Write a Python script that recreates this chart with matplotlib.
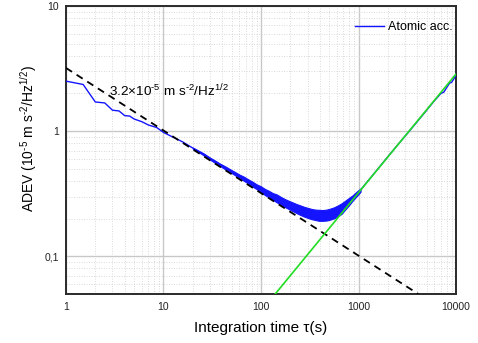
import matplotlib
matplotlib.use("Agg")
import matplotlib.pyplot as plt
from matplotlib.ticker import FixedLocator, LogLocator, NullFormatter

plt.rcParams['font.family'] = ['Liberation Sans', 'DejaVu Sans']
plt.rcParams['mathtext.fontset'] = 'custom'
plt.rcParams['mathtext.rm'] = 'Liberation Sans'
plt.rcParams['mathtext.it'] = 'Liberation Sans:italic'
plt.rcParams['mathtext.bf'] = 'Liberation Sans:bold'

# Atomic accelerometer ADEV (main trace)
tau = [1, 1.5, 2, 2.5, 3, 3.5, 4, 4.5, 5, 6, 7, 8.5, 10, 12, 15.7, 19, 23.3, 28,
       34.5, 42, 51, 60, 66, 75, 85, 96, 110, 125, 140, 160, 180, 200, 225, 250,
       280, 310, 350, 390, 430, 480, 530, 590, 650, 720, 800, 880, 960, 1050,
       1200, 1500, 2000, 2500, 3000, 4000, 5000, 6000, 7000, 7500, 8000, 8600,
       9000, 9900, 10000]
adev = [2.51, 2.36, 1.71, 1.68, 1.47, 1.45, 1.33, 1.32, 1.25, 1.19, 1.12, 1.07,
        0.977, 0.91, 0.821, 0.75, 0.683, 0.625, 0.568, 0.515, 0.472, 0.44, 0.42,
        0.395, 0.37, 0.345, 0.323, 0.305, 0.292, 0.276, 0.264, 0.254, 0.243,
        0.235, 0.227, 0.221, 0.216, 0.213, 0.213, 0.216, 0.221, 0.229, 0.242,
        0.258, 0.276, 0.295, 0.315, 0.338, 0.385, 0.475, 0.625, 0.77, 0.91,
        1.19, 1.47, 1.75, 2.0, 2.05, 2.22, 2.42, 2.45, 2.75, 2.85]

# Noise band of the trace (lower / upper envelope)
band_tau = [20, 23, 26, 30, 34, 38, 43, 48, 54, 60, 67, 74, 82, 90, 100, 110,
            120, 132, 145, 160, 175, 190, 210, 230, 250, 275, 300, 330, 360,
            395, 430, 470, 510, 560, 610, 670, 730, 800, 870, 950, 1050]
band_lo = [0.722, 0.68, 0.638, 0.592, 0.556, 0.527, 0.495, 0.472, 0.445, 0.423,
           0.40, 0.382, 0.36, 0.345, 0.326, 0.308, 0.296, 0.283, 0.27, 0.258,
           0.248, 0.24, 0.23, 0.222, 0.215, 0.208, 0.203, 0.198, 0.195, 0.192,
           0.192, 0.193, 0.196, 0.201, 0.208, 0.218, 0.236, 0.256, 0.278, 0.3,
           0.328]
band_hi = [0.738, 0.697, 0.662, 0.614, 0.58, 0.55, 0.523, 0.497, 0.472, 0.45,
           0.432, 0.412, 0.394, 0.376, 0.362, 0.345, 0.334, 0.32, 0.312, 0.298,
           0.287, 0.279, 0.27, 0.262, 0.256, 0.249, 0.244, 0.239, 0.236, 0.235,
           0.234, 0.236, 0.24, 0.246, 0.254, 0.265, 0.278, 0.293, 0.307, 0.327,
           0.348]

# White-noise reference line 3.2/sqrt(tau)
white_tau = [1, 4096]
white_adev = [3.2, 0.05]

# Drift line (green)
drift_tau = [140, 10000]
drift_adev = [0.05, 2.86]

xticks = [1, 10, 100, 1000, 10000]
xticklabels = ['1', '10', '100', '1000', '10000']
yticks = [0.1, 1, 10]
yticklabels = ['0,1', '1', '10']

fig = plt.figure(figsize=(4.78, 3.43), dpi=100)
ax = fig.add_axes([0.138, 0.143, 0.816, 0.8395])

ax.set_xscale('log')
ax.set_yscale('log')
ax.set_xlim(1, 10000)
ax.set_ylim(0.05, 10)

ax.fill_between(band_tau, band_lo, band_hi, color='#1414ff', lw=0.8,
                edgecolor='#1414ff', zorder=3)
ax.plot(tau, adev, color='#1414ff', lw=1.0, zorder=4, label='Atomic acc.')
ax.plot(white_tau, white_adev, color='black', lw=1.3, ls=(0, (4, 3)), zorder=5)
ax.plot(drift_tau, drift_adev, color='#22dd22', lw=1.2, zorder=5)

ax.xaxis.set_major_locator(FixedLocator(xticks))
ax.set_xticklabels(xticklabels)
ax.yaxis.set_major_locator(FixedLocator(yticks))
ax.set_yticklabels(yticklabels)
ax.xaxis.set_minor_locator(LogLocator(base=10, subs=range(2, 10), numticks=20))
ax.yaxis.set_minor_locator(LogLocator(base=10, subs=range(2, 10), numticks=20))
ax.xaxis.set_minor_formatter(NullFormatter())
ax.yaxis.set_minor_formatter(NullFormatter())

ax.grid(which='major', color='#c8c8c8', lw=1.0, ls='-', zorder=0)
ax.grid(which='minor', color='#d6d6d6', lw=0.6, ls=(0, (1.2, 1.8)), zorder=0)
ax.set_axisbelow(True)

ax.tick_params(which='both', length=0, labelsize=7.5, colors='#222222')
ax.tick_params(axis='x', pad=6)
ax.tick_params(axis='y', pad=5)
for s in ax.spines.values():
    s.set_color('#2a2a2a')
    s.set_linewidth(1.4)

ax.set_xlabel('Integration time τ(s)', fontsize=11, labelpad=6)
ax.set_ylabel(r'ADEV (10$^{\text{-}5}$ m s$^{\text{-}2}$/Hz$^{1/2}$)',
              fontsize=10, va='center')
ax.yaxis.set_label_coords(-0.095, 0.54)

ax.text(2.77, 1.905, r'3.2×10$^{\text{-}5}$ m s$^{\text{-}2}$/Hz$^{1/2}$',
        fontsize=9.7, ha='left', va='baseline', zorder=6)

ax.legend(loc='upper right', bbox_to_anchor=(1.0, 0.96), frameon=False,
          fontsize=9, handlelength=2.3, handletextpad=0.3, borderaxespad=0.0,
          borderpad=0.3)

fig.savefig('out.png', dpi=100)
